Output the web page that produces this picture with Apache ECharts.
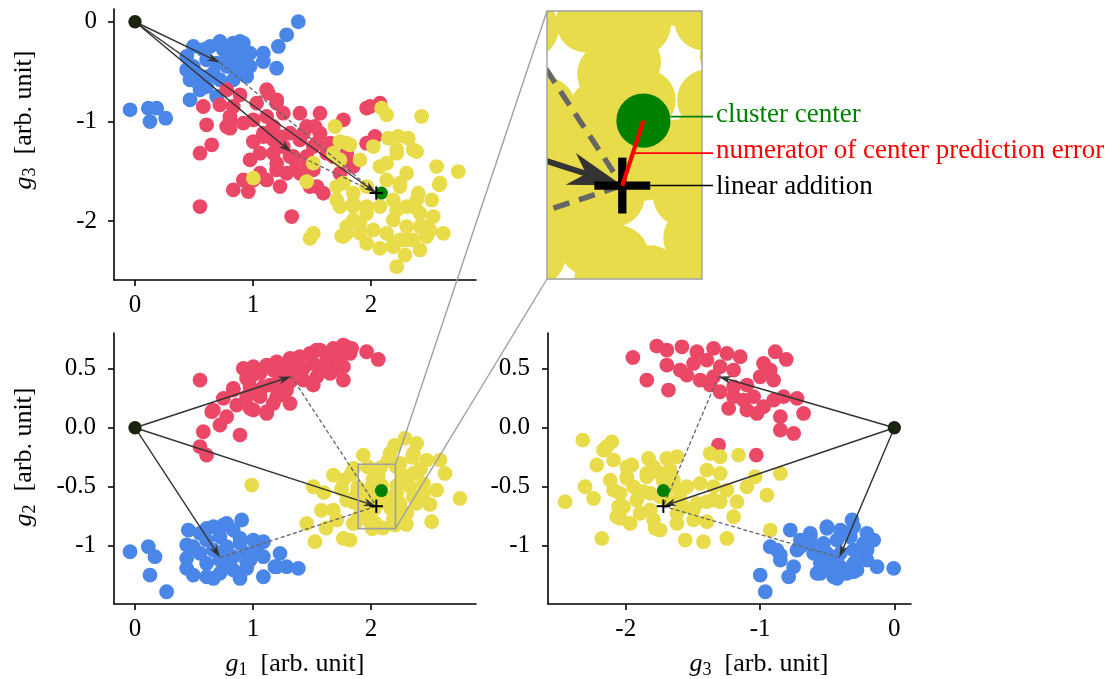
<!DOCTYPE html>
<html>
<head>
<meta charset="utf-8">
<script src="https://cdn.jsdelivr.net/npm/echarts@6/dist/echarts.min.js"></script>
<style>
html,body{margin:0;padding:0;background:#fff;}
#chart{width:1116px;height:679px;}
</style>
</head>
<body>
<div id="chart"></div>
<script>
// ---- cluster samples, one array per projection ----
// panel (g1, g3)
const blueG1G3 = [[1.384,0.00],[1.285,-0.131],[1.215,-0.248],[1.20,-0.466],[1.088,-0.315],[1.088,-0.399],[0.494,-0.248],[0.578,-0.281],[0.720,-0.198],[0.833,-0.214],[0.918,-0.214],[0.494,-0.449],[0.438,-0.482],[0.551,-0.549],[0.664,-0.516],[0.805,-0.449],[0.890,-0.415],[0.946,-0.549],[0.946,-0.315],[0.777,-0.315],[0.607,-0.382],[0.466,-0.583],[0.551,-0.683],[0.466,-0.784],[0.692,-0.750],[0.833,-0.583],[0.975,-0.449],[-0.042,-0.884],[0.113,-0.868],[0.184,-0.868],[0.127,-1.002],[0.260,-0.968],[0.636,-0.248],[0.749,-0.281],[0.862,-0.332],[0.692,-0.415],[0.720,-0.583],[0.607,-0.650],[0.438,-0.348],[0.890,-0.499],[0.890,-0.198],[0.777,-0.449],[0.975,-0.315],[0.520,-0.600],[0.620,-0.550]];
const redG1G3 = [[0.777,-0.683],[0.890,-0.734],[1.116,-0.683],[1.201,-0.784],[1.031,-0.817],[0.579,-0.851],[0.720,-0.834],[0.833,-0.851],[0.607,-1.035],[0.805,-0.985],[0.805,-1.069],[0.918,-1.018],[1.003,-0.985],[1.116,-0.951],[1.257,-0.918],[1.398,-0.918],[1.568,-0.918],[1.766,-0.985],[1.992,-0.851],[2.076,-0.817],[0.551,-1.320],[0.650,-1.236],[0.833,-1.688],[0.960,-1.705],[1.003,-1.203],[1.059,-1.320],[0.975,-1.387],[1.172,-1.186],[1.257,-1.253],[1.314,-1.119],[1.398,-1.186],[1.455,-1.052],[1.568,-1.119],[1.511,-1.253],[1.653,-1.219],[1.681,-1.353],[1.794,-1.320],[2.034,-1.152],[1.963,-1.219],[1.201,-1.420],[1.285,-1.521],[1.398,-1.521],[1.483,-1.454],[1.540,-1.655],[1.596,-1.722],[1.116,-1.588],[1.003,-1.588],[0.551,-1.856],[1.328,-1.956],[1.172,-1.052],[1.088,-1.119],[1.342,-1.353],[1.455,-1.353],[1.737,-1.521],[1.850,-1.454],[1.229,-1.655],
  [0.777,-1.052],[0.805,-0.952],[0.918,-1.588],[1.059,-1.521],[1.200,-1.487],[1.314,-1.354],[1.172,-1.320],[1.229,-1.153],[1.088,-1.153],[1.130,-0.717],[1.200,-0.817],[1.525,-1.052],[1.427,-1.119],[1.540,-1.219],[1.624,-1.320],[1.511,-1.487],[1.483,-1.655],[1.370,-1.454],[1.963,-0.867],[1.794,-1.387]];
const yellowG1G3 = [[2.090,-0.868],[2.133,-0.935],[2.429,-0.951],[1.695,-1.052],[1.794,-1.219],[2.020,-1.253],[2.147,-1.169],[2.232,-1.152],[2.316,-1.169],[2.359,-1.286],[2.218,-1.320],[2.556,-1.454],[2.740,-1.504],[2.585,-1.621],[2.401,-1.722],[2.514,-1.789],[2.613,-2.124],[1.511,-1.420],[1.455,-1.605],[1.003,-1.571],[1.681,-1.320],[1.907,-1.387],[2.076,-1.454],[2.133,-1.588],[2.246,-1.621],[2.302,-1.521],[1.766,-1.621],[1.850,-1.722],[1.963,-1.655],[2.189,-1.789],[2.302,-1.856],[2.415,-1.923],[1.737,-1.856],[1.850,-1.990],[1.963,-1.923],[2.076,-1.856],[2.189,-1.990],[2.302,-2.057],[2.415,-2.057],[2.500,-2.090],[1.794,-2.124],[1.907,-2.124],[2.020,-2.090],[2.133,-2.124],[2.246,-2.191],[2.359,-2.191],[2.472,-2.157],[1.511,-2.124],[1.483,-2.174],[1.766,-2.157],[1.963,-2.224],[2.076,-2.275],[2.189,-2.258],[2.288,-2.342],[2.218,-2.459],[2.415,-2.291],[1.850,-1.856],[1.709,-1.789],[2.528,-1.956],[2.387,-1.789],
  [1.737,-1.203],[1.822,-1.236],[1.737,-1.387],[2.133,-1.420],[2.218,-1.286],[2.387,-1.304],[2.579,-1.638],[2.246,-1.655],[1.709,-1.655],[1.850,-1.822],[1.963,-1.856],[2.218,-1.889],[2.359,-1.856],[2.472,-2.057],[2.302,-2.191],[2.189,-2.224],[1.794,-2.057],[1.751,-2.151],[1.907,-2.023]];

// panel (g1, g2)
const blueG1G2 = [[0.904,-0.782],[0.452,-0.867],[0.551,-0.895],[0.664,-0.839],[0.777,-0.811],[0.833,-0.867],[0.720,-0.924],[0.607,-0.952],[0.494,-1.008],[0.438,-1.107],[0.551,-1.065],[0.664,-1.037],[0.777,-1.008],[0.890,-0.980],[1.003,-0.952],[1.088,-0.966],[1.031,-1.037],[0.946,-1.065],[0.833,-1.093],[0.720,-1.121],[0.607,-1.150],[0.494,-1.249],[0.607,-1.263],[0.720,-1.234],[0.833,-1.206],[0.946,-1.192],[0.890,-1.277],[0.664,-1.277],[1.088,-1.093],[1.088,-1.263],[1.229,-1.065],[1.201,-1.178],[1.285,-1.178],[1.384,-1.192],[-0.042,-1.051],[0.113,-1.008],[0.169,-1.093],[0.127,-1.249],[0.268,-1.390],[0.438,-1.192],[0.975,-1.121],[0.777,-1.178],
  [0.607,-0.853],[0.749,-0.825],[0.890,-0.937],[1.186,-1.178],[0.438,-0.994],[0.720,-1.107],[0.946,-1.136]];
const redG1G2 = [[0.551,0.404],[1.963,0.644],[2.062,0.579],[1.794,0.686],[1.681,0.672],[1.568,0.658],[1.483,0.630],[1.398,0.602],[1.314,0.588],[1.201,0.559],[1.116,0.531],[1.003,0.517],[0.918,0.503],[0.946,0.418],[1.059,0.460],[1.172,0.489],[1.285,0.503],[1.398,0.517],[1.511,0.545],[1.624,0.573],[1.737,0.602],[1.822,0.630],[1.766,0.517],[1.766,0.404],[1.653,0.460],[1.540,0.432],[1.427,0.404],[1.314,0.390],[1.201,0.376],[1.088,0.347],[0.975,0.347],[0.833,0.319],[0.749,0.249],[0.664,0.150],[0.720,0.023],[0.579,-0.034],[0.890,-0.062],[0.551,-0.161],[0.607,-0.232],[1.314,0.206],[1.116,0.121],[1.003,0.150],[0.862,0.192],[1.059,0.263],[1.201,0.263],[1.172,0.206],[1.511,0.362],[1.681,0.489],[0.946,0.263],[0.777,0.093],[1.285,0.319],
  [1.200,0.531],[1.370,0.588],[1.540,0.658],[1.765,0.701],[1.836,0.673],[1.116,0.136],[0.975,0.164],[0.650,0.136],[0.833,0.334],[0.975,0.419],[1.144,0.362],[1.059,0.277],[1.229,0.277],[1.427,0.503],[1.596,0.503],[1.653,0.588],[1.370,0.450],[1.260,0.440]];
const yellowG1G2 = [[0.989,-0.486],[1.511,-0.500],[1.455,-0.811],[1.525,-0.966],[1.822,-0.952],[1.766,-0.938],[1.681,-0.401],[1.681,-0.698],[1.766,-0.444],[1.828,-0.398],[1.935,-0.232],[2.161,-0.218],[2.288,-0.090],[2.387,-0.133],[2.472,-0.274],[2.359,-0.218],[2.246,-0.302],[2.585,-0.274],[2.627,-0.387],[2.556,-0.528],[2.754,-0.599],[2.514,-0.797],[2.265,-0.400],[2.359,-0.387],[2.444,-0.472],[2.331,-0.500],[2.218,-0.556],[1.879,-0.556],[1.794,-0.613],[2.246,-0.641],[2.359,-0.585],[2.444,-0.556],[1.709,-0.782],[1.850,-0.811],[2.302,-0.726],[2.387,-0.641],[2.246,-0.754],
  [1.600,-0.550],[1.580,-0.700],[1.750,-0.520],[1.620,-0.850],[2.300,-0.450],[2.420,-0.350],[2.500,-0.650],[2.300,-0.820],[2.350,-0.250],[2.200,-0.150],
  [1.973,-0.332],[1.853,-0.345],[2.081,-0.338],[2.213,-0.328],[2.146,-0.277],[2.016,-0.438],[2.061,-0.414],[1.888,-0.507],[2.000,-0.511],[2.091,-0.491],[2.219,-0.491],[1.959,-0.572],[1.857,-0.633],[2.030,-0.593],[2.162,-0.593],[2.213,-0.674],[1.979,-0.643],[2.091,-0.633],[1.929,-0.694],[2.028,-0.686],[2.170,-0.686],[1.898,-0.751],[1.979,-0.786],[2.036,-0.808],[2.191,-0.771],[1.868,-0.806],[2.010,-0.857],[2.101,-0.849],[2.203,-0.826]];

// panel (g3, g2)
const blueG3G2 = [[-0.315,-0.782],[-0.775,-0.867],[-0.626,-0.895],[-0.502,-0.839],[-0.402,-0.867],[-0.303,-0.839],[-0.204,-0.895],[-0.154,-0.952],[-0.229,-0.980],[-0.328,-0.924],[-0.427,-0.952],[-0.527,-0.980],[-0.626,-0.980],[-0.725,-1.037],[-0.874,-1.037],[-0.924,-1.008],[-0.849,-1.121],[-0.750,-1.178],[-0.601,-1.065],[-0.502,-1.065],[-0.402,-1.065],[-0.303,-1.037],[-0.229,-1.065],[-0.204,-1.121],[-0.303,-1.150],[-0.402,-1.178],[-0.502,-1.206],[-0.576,-1.234],[-0.452,-1.263],[-0.353,-1.234],[-0.278,-1.206],[-0.129,-1.178],[-0.005,-1.192],[-0.999,-1.249],[-0.787,-1.263],[-0.961,-1.390],[-0.551,-1.150],[-0.452,-1.121],[-0.700,-0.952],
  [-0.502,-0.853],[-0.626,-0.924],[-0.849,-1.079],[-0.700,-1.008],[-0.203,-1.036],[-0.551,-1.234],[-0.427,-1.276],[-0.303,-1.220]];
const redG3G2 = [[-1.947,0.596],[-1.843,0.404],[-1.682,0.319],[-1.769,0.692],[-1.694,0.658],[-1.582,0.686],[-1.470,0.644],[-1.346,0.672],[-1.247,0.630],[-1.148,0.602],[-1.694,0.531],[-1.595,0.489],[-1.495,0.545],[-1.396,0.573],[-1.297,0.517],[-1.197,0.489],[-1.346,0.432],[-1.446,0.404],[-1.545,0.446],[-1.371,0.362],[-1.297,0.305],[-1.197,0.347],[-1.098,0.362],[-0.999,0.432],[-0.924,0.489],[-0.887,0.644],[-0.805,0.579],[-0.974,0.545],[-0.899,0.404],[-1.048,0.263],[-1.123,0.234],[-1.197,0.263],[-1.234,0.164],[-1.098,0.150],[-0.974,0.178],[-0.899,0.234],[-0.825,0.263],[-0.725,0.249],[-0.676,0.121],[-0.849,0.093],[-0.750,-0.048],[-0.849,-0.020],[-1.023,0.121],[-1.309,-0.147],[-1.028,-0.232]];
const yellowG3G2 = [[-2.320,-0.105],[-2.104,-0.119],[-2.166,-0.189],[-2.216,-0.316],[-2.091,-0.274],[-1.992,-0.331],[-1.831,-0.260],[-1.694,-0.260],[-1.619,-0.246],[-1.371,-0.218],[-1.297,-0.246],[-1.160,-0.232],[-1.036,-0.415],[-0.849,-0.387],[-0.949,-0.571],[-0.924,-0.867],[-2.452,-0.627],[-2.303,-0.500],[-2.240,-0.599],[-2.178,-0.938],[-2.116,-0.444],[-2.042,-0.556],[-1.942,-0.500],[-1.843,-0.415],[-1.744,-0.387],[-1.644,-0.444],[-1.545,-0.500],[-1.446,-0.472],[-1.346,-0.500],[-1.247,-0.528],[-1.172,-0.627],[-1.197,-0.754],[-1.247,-0.938],[-1.421,-0.966],[-1.557,-0.952],[-1.619,-0.811],[-1.744,-0.867],[-1.793,-0.782],[-1.893,-0.726],[-1.967,-0.811],[-2.067,-0.754],[-2.017,-0.669],[-1.918,-0.613],[-1.818,-0.556],[-1.694,-0.613],[-1.570,-0.669],[-1.470,-0.641],[-1.346,-0.613],[-1.495,-0.782],[-1.396,-0.797],[-1.595,-0.556],[-1.992,-0.415],[-1.793,-0.331],[-1.396,-0.359],[-1.297,-0.387],[-1.098,-0.500],
  [-2.141,-0.161],[-1.955,-0.316],[-2.054,-0.669],[-2.042,-0.768],[-1.781,-0.853],[-1.495,-0.697],[-1.619,-0.725],[-2.091,-0.528],[-1.992,-0.429],[-1.843,-0.386],[-1.868,-0.542],[-1.744,-0.585],[-1.644,-0.500],[-1.297,-0.627],[-1.396,-0.627],[-1.669,-0.358],[-1.768,-0.373],[-1.818,-0.697],[-1.720,-0.450],[-1.600,-0.600]];

// ---- reference points in (g1, g2, g3) ----
const origin = [0, 0, 0];
const blueCenter = [0.72, -1.10, -0.41];
const redCenter = [1.325, 0.435, -1.31];
const linearAddition = [2.045, -0.665, -1.72];
const clusterCenter = [2.088, -0.533, -1.72];

// ---- axis ticks ----
const g1Ticks = [0, 1, 2];
const g1TickLabels = ['0', '1', '2'];
const g3TicksTop = [-2, -1, 0];
const g3TickLabelsTop = ['-2', '-1', '0'];
const g2Ticks = [-1, -0.5, 0, 0.5];
const g2TickLabels = ['-1', '-0.5', '0.0', '0.5'];
const g3Ticks = [-2, -1, 0];
const g3TickLabels = ['-2', '-1', '0'];

// ---- zoom window on the (g1, g2) panel ----
const insetX = [1.892, 2.207];
const insetY = [-0.855, -0.31];

const annotations = ['cluster center', 'numerator of center prediction error', 'linear addition'];

// ---- styling ----
const BLUE = '#4a86e8', RED = '#ea4866', YELLOW = '#e9dc4a', GREEN = '#008000';
const ORIGIN = '#1a2410', ARROW = '#333333', DASH = '#666666';
const SERIF = '"Liberation Serif", "DejaVu Serif", "Times New Roman", serif';
const K = 4.17;            // magnification of the zoom window
const R_POINT = 7.4, R_CENTER = 6.5, R_ORIGIN = 6.7;

const chart = echarts.init(document.getElementById('chart'), null, {renderer: 'canvas'});

function labelMap(values, labels) {
  return v => { const i = values.findIndex(t => Math.abs(t - v) < 1e-9); return i >= 0 ? labels[i] : ''; };
}

function visAxis(gi, min, max, ticks, labels, margin) {
  return {
    gridIndex: gi, min, max, type: 'value',
    axisLine: {show: true, onZero: false, lineStyle: {color: '#000', width: 1.6}},
    axisTick: {show: true, length: 6, inside: false, customValues: ticks, lineStyle: {color: '#000', width: 1.6}},
    axisLabel: {show: true, customValues: ticks, formatter: labelMap(ticks, labels),
      fontFamily: SERIF, fontSize: 25, color: '#000', margin},
    splitLine: {show: false}
  };
}
function hiddenAxis(gi, min, max) {
  return {gridIndex: gi, min, max, type: 'value', axisLine: {show: false}, axisTick: {show: false},
    axisLabel: {show: false}, splitLine: {show: false}};
}

function circleItem(color, r) {
  return (params, api) => {
    const p = api.coord([api.value(0), api.value(1)]);
    return {type: 'circle', shape: {cx: p[0], cy: p[1], r}, style: {fill: color}};
  };
}
function dashedItem(s) {
  return (params, api) => {
    const a = api.coord([api.value(0), api.value(1)]);
    const b = api.coord([api.value(2), api.value(3)]);
    return {type: 'line', shape: {x1: a[0], y1: a[1], x2: b[0], y2: b[1]},
      style: {stroke: DASH, lineWidth: 1.3 * s, lineDash: [4 * s, 2.4 * s]}};
  };
}
function arrowItem(s) {
  return (params, api) => {
    const a = api.coord([api.value(0), api.value(1)]);
    const b = api.coord([api.value(2), api.value(3)]);
    const dx = b[0] - a[0], dy = b[1] - a[1], len = Math.hypot(dx, dy);
    const ux = dx / len, uy = dy / len, px = -uy, py = ux;
    const L = 13 * s, W = 4 * s, N = 0.7 * L;
    const bx = b[0] - ux * L, by = b[1] - uy * L;
    const nx = b[0] - ux * N, ny = b[1] - uy * N;
    return {type: 'group', children: [
      {type: 'line', shape: {x1: a[0], y1: a[1], x2: nx, y2: ny}, style: {stroke: ARROW, lineWidth: 1.4 * s}},
      {type: 'polygon', shape: {points: [[b[0], b[1]], [bx + px * W, by + py * W], [nx, ny], [bx - px * W, by - py * W]]},
        style: {fill: ARROW}}
    ]};
  };
}
function plusItem(s) {
  return (params, api) => {
    const p = api.coord([api.value(0), api.value(1)]);
    const h = 6.7 * s, t = 1.0 * s;
    return {type: 'group', children: [
      {type: 'rect', shape: {x: p[0] - h, y: p[1] - t, width: 2 * h, height: 2 * t}, style: {fill: '#000'}},
      {type: 'rect', shape: {x: p[0] - t, y: p[1] - h, width: 2 * t, height: 2 * h}, style: {fill: '#000'}}
    ]};
  };
}
function errorLineItem(params, api) {
  const a = api.coord([api.value(0), api.value(1)]);
  const b = api.coord([api.value(2), api.value(3)]);
  return {type: 'line', shape: {x1: a[0], y1: a[1], x2: b[0], y2: b[1]}, style: {stroke: '#ff0000', lineWidth: 4.2}};
}

// all layers of one panel: clusters, vectors, markers
function panelSeries(gi, pts, dims, s, clip, withError) {
  const P = c => [c[dims[0]], c[dims[1]]];
  const base = {type: 'custom', coordinateSystem: 'cartesian2d', xAxisIndex: gi, yAxisIndex: gi,
    clip, silent: true, animation: false};
  const list = [
    Object.assign({}, base, {data: pts[0], renderItem: circleItem(BLUE, R_POINT * s)}),
    Object.assign({}, base, {data: pts[1], renderItem: circleItem(RED, R_POINT * s)}),
    Object.assign({}, base, {data: pts[2], renderItem: circleItem(YELLOW, R_POINT * s)}),
    Object.assign({}, base, {data: [P(blueCenter).concat(P(linearAddition)), P(redCenter).concat(P(linearAddition))],
      renderItem: dashedItem(s)}),
    Object.assign({}, base, {data: [P(origin).concat(P(blueCenter)), P(origin).concat(P(redCenter)), P(origin).concat(P(linearAddition))],
      renderItem: arrowItem(s)}),
    Object.assign({}, base, {data: [P(origin)], renderItem: circleItem(ORIGIN, R_ORIGIN * s)}),
    Object.assign({}, base, {data: [P(clusterCenter)], renderItem: circleItem(GREEN, R_CENTER * s)}),
    Object.assign({}, base, {data: [P(linearAddition)], renderItem: plusItem(s)})
  ];
  if (withError) {
    list.push(Object.assign({}, base, {data: [P(linearAddition).concat(P(clusterCenter))], renderItem: errorLineItem}));
  }
  return list;
}

function rectItem(width) {
  return (params, api) => {
    const a = api.coord([api.value(0), api.value(1)]), b = api.coord([api.value(2), api.value(3)]);
    return {type: 'rect', shape: {x: a[0], y: a[1], width: b[0] - a[0], height: b[1] - a[1]},
      style: {fill: 'none', stroke: '#a0a0a0', lineWidth: width}};
  };
}

const series = [].concat(
  panelSeries(0, [blueG1G3, redG1G3, yellowG1G3], [0, 2], 1, false, false),
  panelSeries(1, [blueG1G2, redG1G2, yellowG1G2], [0, 1], 1, false, false),
  panelSeries(2, [blueG3G2, redG3G2, yellowG3G2], [2, 1], 1, false, false),
  panelSeries(3, [blueG1G2, redG1G2, yellowG1G2], [0, 1], K, true, true),
  [
    // zoom window outline on the (g1, g2) panel
    {type: 'custom', coordinateSystem: 'cartesian2d', xAxisIndex: 1, yAxisIndex: 1, silent: true, animation: false,
      data: [[insetX[0], insetY[1], insetX[1], insetY[0]]], renderItem: rectItem(1.6)},
    // frame of the magnified view
    {type: 'custom', coordinateSystem: 'cartesian2d', xAxisIndex: 3, yAxisIndex: 3, silent: true, animation: false, clip: false,
      data: [[insetX[0], insetY[1], insetX[1], insetY[0]]], renderItem: rectItem(1.4)}
  ]
);

const option = {
  backgroundColor: '#fff',
  animation: false,
  grid: [
    {left: 114, top: 9, width: 362, height: 271},
    {left: 114, top: 333, width: 362, height: 271},
    {left: 548, top: 333, width: 363, height: 271},
    {left: 547, top: 11, width: 155, height: 268}
  ],
  xAxis: [
    visAxis(0, -0.178, 2.89, g1Ticks, g1TickLabels, 13),
    visAxis(1, -0.178, 2.89, g1Ticks, g1TickLabels, 13),
    visAxis(2, -2.579, 0.124, g3Ticks, g3TickLabels, 13),
    hiddenAxis(3, insetX[0], insetX[1])
  ],
  yAxis: [
    visAxis(0, -2.593, 0.128, g3TicksTop, g3TickLabelsTop, 17),
    visAxis(1, -1.494, 0.803, g2Ticks, g2TickLabels, 18),
    visAxis(2, -1.494, 0.803, g2Ticks, g2TickLabels, 18),
    hiddenAxis(3, insetY[0], insetY[1])
  ],
  series
};
chart.setOption(option);

// axis titles with italic symbol and subscript
function axisTitle(sub, cx, cy, vertical) {
  return {
    type: 'text', x: cx, y: cy, rotation: vertical ? Math.PI / 2 : 0, z: 100,
    style: {
      text: '{g|g}{s|' + sub + '}{t|  [arb. unit]}',
      align: 'center', verticalAlign: 'middle',
      rich: {
        g: {fontFamily: SERIF, fontStyle: 'italic', fontSize: 26, fill: '#000', lineHeight: 30},
        s: {fontFamily: SERIF, fontSize: 18, fill: '#000', lineHeight: 22, verticalAlign: 'bottom'},
        t: {fontFamily: SERIF, fontSize: 26, fill: '#000', lineHeight: 30}
      }
    }
  };
}

const toP = (gi, v) => chart.convertToPixel({xAxisIndex: gi, yAxisIndex: gi}, v);
const boxTR = toP(1, [insetX[1], insetY[1]]);
const boxBR = toP(1, [insetX[1], insetY[0]]);
const winTL = toP(3, [insetX[0], insetY[1]]);
const winBL = toP(3, [insetX[0], insetY[0]]);
const greenPx = toP(3, [clusterCenter[0], clusterCenter[1]]);
const plusPx = toP(3, [linearAddition[0], linearAddition[1]]);
const midErr = [(greenPx[0] + plusPx[0]) / 2, (greenPx[1] + plusPx[1]) / 2];
const textX = 716;
const lineEnd = textX - 3;
const rGreen = R_CENTER * K;

const graphics = [
  {type: 'line', z: 100, shape: {x1: boxTR[0], y1: boxTR[1], x2: winTL[0], y2: winTL[1]}, style: {stroke: '#a0a0a0', lineWidth: 1.4}},
  {type: 'line', z: 100, shape: {x1: boxBR[0], y1: boxBR[1], x2: winBL[0], y2: winBL[1]}, style: {stroke: '#a0a0a0', lineWidth: 1.4}},
  // leader lines and their texts
  {type: 'line', z: 100, shape: {x1: greenPx[0] + rGreen, y1: greenPx[1] - 4, x2: lineEnd, y2: greenPx[1] - 4}, style: {stroke: GREEN, lineWidth: 1.6}},
  {type: 'line', z: 100, shape: {x1: midErr[0], y1: midErr[1], x2: lineEnd, y2: midErr[1]}, style: {stroke: '#ff0000', lineWidth: 1.6}},
  {type: 'line', z: 100, shape: {x1: plusPx[0] + 6.7 * K, y1: plusPx[1], x2: lineEnd, y2: plusPx[1]}, style: {stroke: '#000', lineWidth: 1.6}},
  {type: 'text', z: 100, x: textX, y: greenPx[1] - 6, style: {text: annotations[0], fill: GREEN, fontFamily: SERIF, fontSize: 27, align: 'left', verticalAlign: 'middle'}},
  {type: 'text', z: 100, x: textX, y: midErr[1] - 2, style: {text: annotations[1], fill: '#ff0000', fontFamily: SERIF, fontSize: 27, align: 'left', verticalAlign: 'middle'}},
  {type: 'text', z: 100, x: textX, y: plusPx[1] + 1, style: {text: annotations[2], fill: '#000', fontFamily: SERIF, fontSize: 27, align: 'left', verticalAlign: 'middle'}},
  axisTitle('3', 24, 120, true),
  axisTitle('2', 24, 457, true),
  axisTitle('1', 295, 664, false),
  axisTitle('3', 759, 664, false)
];
chart.setOption({graphic: graphics});
</script>
</body>
</html>
